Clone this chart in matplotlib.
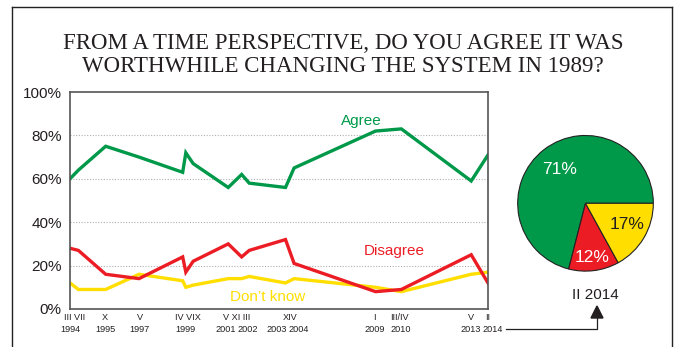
import numpy as np
import matplotlib
matplotlib.use("Agg")
import matplotlib.pyplot as plt
from matplotlib.lines import Line2D
import matplotlib.transforms as mtransforms

# survey waves, placed on a year scale as they sit along the time axis
survey_pos = [1994.17, 1994.57, 1995.87, 1997.46, 1999.54, 1999.69, 2000.04,
              2001.71, 2002.35, 2002.71, 2004.44, 2004.85, 2008.73, 2009.96,
              2013.29, 2014.09]
agree = [60, 64, 75, 70, 63, 72, 67, 56, 62, 58, 56, 65, 82, 83, 59, 71]
disagree = [28, 27, 16, 14, 24, 17, 22, 30, 24, 27, 32, 21, 8, 9, 25, 12]
dont_know = [12, 9, 9, 16, 13, 10, 11, 14, 14, 15, 12, 14, 10, 8, 16, 17]

# month (roman) and year labels under the axis
month_labels = ["III VII", "X", "V", "IV VIX", "V XI III", "XIV", "I", "III/IV", "V", "II"]
month_pos = [1994.41, 1995.84, 1997.50, 1999.79, 2002.12, 2004.64, 2008.69, 2009.88, 2013.26, 2014.07]
year_labels = ["1994", "1995", "1997", "1999", "2001", "2002", "2003", "2004", "2009", "2010", "2013", "2014"]
year_pos = [1994.17, 1995.88, 1997.50, 1999.69, 2001.60, 2002.65, 2004.00, 2005.07, 2008.69, 2009.93, 2013.26, 2014.30]

# latest wave, II 2014
pie_labels = ["Agree", "Disagree", "Don't know"]
pie_values = [71, 12, 17]

GREEN = "#00994A"
RED = "#EC1C24"
YELLOW = "#FFDE00"
TXT = "#231F20"

plt.rcParams["font.family"] = ["Liberation Sans", "DejaVu Sans"]

fig = plt.figure(figsize=(6.79, 3.47), dpi=100)
W, H = 679, 347

def fx(px):
    return px / W

def fy(py):
    return 1 - py / H

# outer box (open at the bottom)
for xs, ys in [([12, 12], [7, 347]), ([12, 672], [7, 7]), ([672, 672], [7, 347])]:
    fig.add_artist(Line2D([fx(x) for x in xs], [fy(y) for y in ys], color="#222222", lw=1.0))

fig.text(fx(343), fy(55), "FROM A TIME PERSPECTIVE, DO YOU AGREE IT WAS\nWORTHWHILE CHANGING THE SYSTEM IN 1989?",
         ha="center", va="center", fontsize=16.5, family="Liberation Serif", color=TXT, linespacing=1.1)

# line chart
ax = fig.add_axes([fx(70), fy(309), fx(488) - fx(70), fy(92) - fy(309)])
ax.plot(survey_pos, agree, color=GREEN, lw=2.4, solid_joinstyle="miter")
ax.plot(survey_pos, dont_know, color=YELLOW, lw=2.4, solid_joinstyle="miter")
ax.plot(survey_pos, disagree, color=RED, lw=2.4, solid_joinstyle="miter")
ax.set_xlim(survey_pos[0], survey_pos[-1])
ax.set_ylim(0, 100)
ax.set_yticks(np.arange(0, 101, 20))
ax.set_yticklabels([f"{v}%" for v in range(0, 101, 20)])
ax.tick_params(axis="y", length=0, pad=6, labelsize=11, labelcolor=TXT)
ax.set_xticks([])
for v in [20, 40, 60, 80]:
    ax.axhline(v, color="#B0B0B0", lw=0.8, ls=(0, (1, 1.5)), zorder=0)
for s in ax.spines.values():
    s.set_color("#555555")
    s.set_linewidth(1.2)

ax.text(2008.05, 86.5, "Agree", color=GREEN, fontsize=11, ha="center", va="center")
ax.text(2009.6, 26.5, "Disagree", color=RED, fontsize=11, ha="center", va="center")
ax.text(2003.6, 5.5, "Don\u2019t know", color=YELLOW, fontsize=11, ha="center", va="center")

trans = mtransforms.blended_transform_factory(ax.transData, fig.transFigure)
for lab, x in zip(month_labels, month_pos):
    fig.text(x, fy(318), lab, transform=trans, ha="center", va="center", fontsize=6.6, color=TXT)
for lab, x in zip(year_labels, year_pos):
    fig.text(x, fy(330), lab, transform=trans, ha="center", va="center", fontsize=6.6, color=TXT)

# connector from the last wave to the pie
fig.add_artist(Line2D([fx(506), fx(597), fx(597)], [fy(329), fy(329), fy(316)], color=TXT, lw=0.9))
fig.add_artist(plt.Polygon([[fx(591), fy(318)], [fx(603), fy(318)], [fx(597), fy(306)]],
                           closed=True, color=TXT, transform=fig.transFigure))
fig.text(fx(595), fy(295), "II 2014", ha="center", va="center", fontsize=11, color=TXT)

# pie of the latest wave
pax = fig.add_axes([fx(517), fy(271.8), fx(654) - fx(517), fy(134.8) - fy(271.8)])
wedges, texts, autotexts = pax.pie(pie_values, colors=[GREEN, RED, YELLOW], startangle=0,
                                   counterclock=True, autopct=lambda p: f"{p:.0f}%",
                                   wedgeprops=dict(edgecolor="#222222", linewidth=0.8),
                                   textprops=dict(fontsize=12.5))
pct_dist = [0.63, 0.80, 0.69]
pct_shift = [0, 0, 3]
start = 0
for val, at, d, sh in zip(pie_values, autotexts, pct_dist, pct_shift):
    mid = np.deg2rad(start + val / 2 * 3.6 + sh)
    at.set_position((d * np.cos(mid), d * np.sin(mid)))
    start += val * 3.6
autotexts[0].set_color("white")
autotexts[1].set_color("white")
autotexts[2].set_color(TXT)
pax.set_xlim(-1.01, 1.01)
pax.set_ylim(-1.01, 1.01)
pax.set_aspect("equal")

fig.savefig("out.png", dpi=100)
